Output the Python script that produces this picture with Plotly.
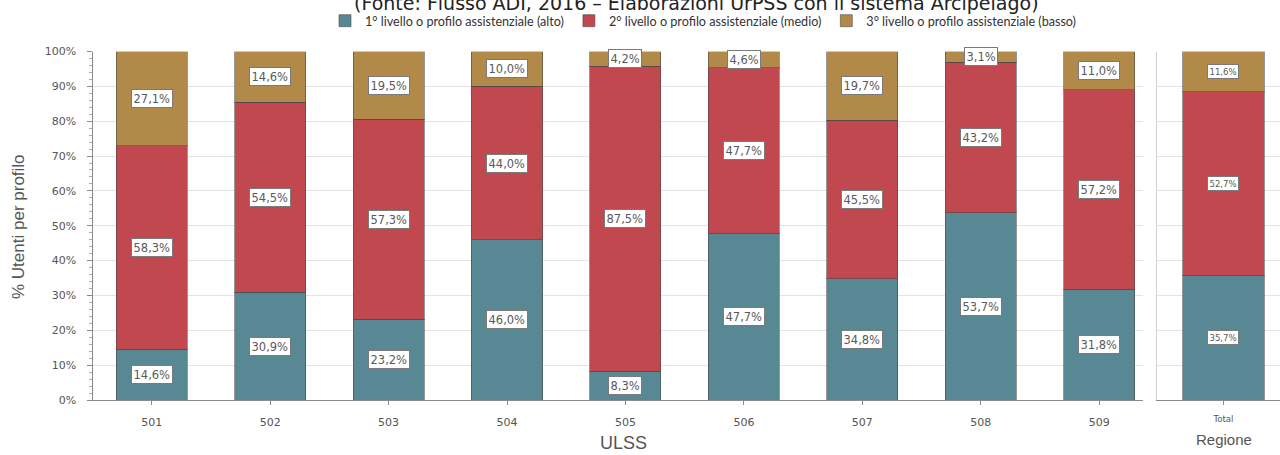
import plotly.graph_objects as go

# ---------------- data ----------------
ulss = ["501", "502", "503", "504", "505", "506", "507", "508", "509"]
alto = [14.6, 30.9, 23.2, 46.0, 8.3, 47.7, 34.8, 53.7, 31.8]
medio = [58.3, 54.5, 57.3, 44.0, 87.5, 47.7, 45.5, 43.2, 57.2]
basso = [27.1, 14.6, 19.5, 10.0, 4.2, 4.6, 19.7, 3.1, 11.0]

tot_cat = ["Total"]
tot_alto = [35.7]
tot_medio = [52.7]
tot_basso = [11.6]

series_names = [
    "1° livello o profilo assistenziale (alto)",
    "2° livello o profilo assistenziale (medio)",
    "3° livello o profilo assistenziale (basso)",
]
colors = ["#588893", "#c0484e", "#b18948"]
y_ticks = [0, 10, 20, 30, 40, 50, 60, 70, 80, 90, 100]
y_ticktext = [f"{v}%" for v in y_ticks]

title_text = "(Fonte: Flusso ADI, 2016 \u2013 Elaborazioni UrPSS con il sistema Arcipelago)"

# ---------------- layout helpers ----------------
W, H = 1280, 455
def px(x):
    return x / W
def py(y):
    return 1 - y / H

AX_FONT = "DejaVu Sans"
GRAY = "#555555"

fig = go.Figure()

main_series = [alto, medio, basso]
tot_series = [tot_alto, tot_medio, tot_basso]
line = dict(color="rgba(70,70,70,0.55)", width=1)

for name, col, vals, tvals in zip(series_names, colors, main_series, tot_series):
    fig.add_trace(go.Bar(x=ulss, y=vals, name=name, marker=dict(color=col, line=line),
                         width=0.6, xaxis="x", yaxis="y", hoverinfo="skip"))
    fig.add_trace(go.Bar(x=tot_cat, y=tvals, name=name, marker=dict(color=col, line=line),
                         width=0.66, xaxis="x2", yaxis="y2", showlegend=False, hoverinfo="skip"))

def fmt(v):
    return f"{v:.1f}".replace(".", ",") + "%"

annotations = []
def add_labels(cats, series, xref, yref, size, pad):
    for i, c in enumerate(cats):
        base = 0
        for s in series:
            v = s[i]
            # category axes take the category index for annotation positions
            annotations.append(dict(
                x=i, y=base + v / 2, xref=xref, yref=yref, text=fmt(v), showarrow=False,
                font=dict(family=AX_FONT, size=size, color="#5a5a5a"),
                bgcolor="white", bordercolor="#7a7a7a", borderwidth=1, borderpad=pad))
            base += v

add_labels(ulss, main_series, "x", "y", 11.5, 1.5)
add_labels(tot_cat, tot_series, "x2", "y2", 8.5, 1.5)

# title (partially cut at top)
annotations.append(dict(x=px(696), y=py(3.5), xref="paper", yref="paper", text=title_text,
                        showarrow=False, xanchor="center", yanchor="middle",
                        font=dict(family="DejaVu Sans", size=19, color="#222222")))
# x axis titles
annotations.append(dict(x=px(623), y=py(443), xref="paper", yref="paper", text="ULSS",
                        showarrow=False, xanchor="center", yanchor="middle",
                        font=dict(family="Liberation Sans", size=18, color=GRAY)))
annotations.append(dict(x=px(1224), y=py(439), xref="paper", yref="paper", text="Regione",
                        showarrow=False, xanchor="center", yanchor="middle",
                        font=dict(family="Liberation Sans", size=15, color=GRAY)))
# y axis title
annotations.append(dict(x=px(18), y=py(227), xref="paper", yref="paper", text="% Utenti per profilo",
                        showarrow=False, textangle=-90, xanchor="center", yanchor="middle",
                        font=dict(family="Liberation Sans", size=17, color=GRAY)))

ydom = [py(400), py(51.5)]

fig.update_layout(
    width=W, height=H,
    margin=dict(l=0, r=0, t=0, b=0),
    paper_bgcolor="white", plot_bgcolor="white",
    barmode="stack",
    showlegend=True,
    legend=dict(orientation="h", x=px(325), y=py(21), xanchor="left", yanchor="middle",
                font=dict(family="Lato", size=12.6, color="#333333"),
                itemwidth=30, tracegroupgap=0, traceorder="normal",
                bgcolor="rgba(0,0,0,0)"),
    annotations=annotations,
    xaxis=dict(domain=[px(92.5), px(1143)], type="category", range=[-0.5, 8.37],
               showline=True, linecolor="#8a8a8a", linewidth=1,
               ticks="outside", ticklen=4, tickcolor="#8a8a8a", ticklabelstandoff=8,
               tickfont=dict(family=AX_FONT, size=11, color=GRAY),
               showgrid=False, automargin=False, anchor="y", fixedrange=True),
    yaxis=dict(domain=ydom, range=[0, 100], tickmode="array", tickvals=y_ticks, ticktext=y_ticktext,
               showline=True, linecolor="#8a8a8a", linewidth=1,
               ticks="outside", ticklen=5, tickcolor="#8a8a8a", ticklabelstandoff=8,
               minor=dict(dtick=2, ticks="outside", ticklen=3, tickcolor="#aaaaaa", showgrid=False),
               tickfont=dict(family=AX_FONT, size=11, color=GRAY),
               showgrid=True, gridcolor="#e4e4e4", gridwidth=1,
               zeroline=False, automargin=False, anchor="x", fixedrange=True),
    xaxis2=dict(domain=[px(1157), px(1280)], type="category", range=[-0.54, 0.46],
                showline=True, linecolor="#8a8a8a", linewidth=1,
                ticks="outside", ticklen=4, tickcolor="#8a8a8a", ticklabelstandoff=7,
                tickfont=dict(family=AX_FONT, size=8.5, color=GRAY),
                showgrid=False, automargin=False, anchor="y2", fixedrange=True),
    yaxis2=dict(domain=ydom, range=[0, 100], tickmode="array", tickvals=y_ticks, showticklabels=False,
                showline=True, linecolor="#d0d0d0", linewidth=1,
                showgrid=True, gridcolor="#e4e4e4", gridwidth=1,
                zeroline=False, automargin=False, anchor="x2", fixedrange=True),
)

fig.write_html("out.html", config={"displayModeBar": False},
               post_script="document.body.style.margin='0';document.body.style.overflow='hidden';")
